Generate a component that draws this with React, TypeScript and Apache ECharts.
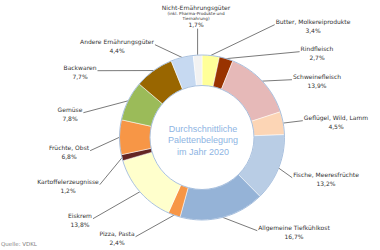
import React, { useEffect, useRef } from "react";
import * as echarts from "echarts";

const categories = [
  "Butter, Molkereiprodukte",
  "Rindfleisch",
  "Schweinefleisch",
  "Geflügel, Wild, Lamm",
  "Fische, Meeresfrüchte",
  "Allgemeine Tiefkühlkost",
  "Pizza, Pasta",
  "Eiskrem",
  "Kartoffelerzeugnisse",
  "Früchte, Obst",
  "Gemüse",
  "Backwaren",
  "Andere Ernährungsgüter",
  "Nicht-Ernährungsgüter",
];
const shares = [3.4, 2.7, 13.9, 4.5, 13.2, 16.7, 2.4, 13.8, 1.2, 6.8, 7.8, 7.7, 4.4, 1.7];
const noteLines = ["(inkl. Pharma-Produkte und", "Tiernahrung)"];
const centerTitle = ["Durchschnittliche", "Palettenbelegung", "im Jahr 2020"];
const sourceText = "Quelle: VDKL";

const sliceColors = [
  "#FFFF99", "#993300", "#E6B9B8", "#FCD5B5", "#B9CDE5", "#95B3D7", "#F79646",
  "#FFFFCC", "#632523", "#F79646", "#9BBB59", "#996600", "#C6D9F1", "#F2F2F2",
];

// label box centres (layout only)
const labelSpots: [number, number][] = [
  [313, 26], [317, 53], [317, 81], [336, 122], [326, 179], [294, 232], [117, 238],
  [80, 220], [68, 186], [69, 152], [70, 114], [80, 72], [117, 46], [196, 16],
];

const fmt = (v: number) => v.toFixed(1).replace(".", ",") + "%";

export default function App() {
  const ref = useRef<HTMLDivElement>(null);
  useEffect(() => {
    if (!ref.current) return;
    const chart = echarts.init(ref.current, null, { renderer: "svg" });
    const font = "DejaVu Sans";
    const nameLH = 8.5;
    const txt = "#333333";
    chart.setOption({
      animation: false,
      backgroundColor: "#ffffff",
      series: [
        {
          type: "pie",
          center: [202, 137.5],
          radius: [52, 82.5],
          startAngle: 90,
          clockwise: true,
          avoidLabelOverlap: false,
          silent: true,
          data: categories.map((c, i) => ({
            name: c,
            value: shares[i],
            itemStyle: { color: sliceColors[i] },
          })),
          itemStyle: { borderColor: "rgba(255,255,255,0.85)", borderWidth: 0.6 },
          label: {
            show: true,
            position: "outside",
            color: txt,
            fontFamily: font,
            align: "center",
            formatter: (p: any) => {
              if (p.dataIndex === categories.length - 1) {
                return `{n|${p.name}}\n{s|${noteLines[0]}}\n{s|${noteLines[1]}}\n{n|${fmt(p.value)}}`;
              }
              return `{n|${p.name}}\n{n|${fmt(p.value)}}`;
            },
            rich: {
              n: { fontSize: 6, lineHeight: nameLH, fontFamily: font, color: txt, align: "center" },
              s: { fontSize: 4.2, lineHeight: 4.4, fontFamily: font, color: txt, align: "center" },
            },
          },
          labelLine: {
            show: true,
            length: 4,
            length2: 4,
            lineStyle: { color: "#404040", width: 0.7 },
          },
          labelLayout: (params: any) => {
            const i = params.dataIndex;
            const [cx, cy] = labelSpots[i];
            const w = params.labelRect.width;
            const h = params.labelRect.height;
            const anchor = params.labelLinePoints ? params.labelLinePoints[0] : [cx, cy];
            let end: number[];
            if (Math.abs(cx - anchor[0]) < 15) {
              end = [anchor[0], cy + h / 2 + 1];
            } else if (cx > anchor[0]) {
              end = [cx - w / 2 - 1, cy - h / 2 + nameLH * 0.7];
            } else {
              end = [cx + w / 2 + 1, cy - h / 2 + nameLH * 0.7];
            }
            return {
              x: cx,
              y: cy,
              align: "center",
              verticalAlign: "middle",
              labelLinePoints: [anchor, end],
            };
          },
        },
        {
          type: "pie",
          center: [202, 137.5],
          radius: [52, 82.5],
          silent: true,
          label: { show: false },
          labelLine: { show: false },
          data: [{ value: 1, name: "outline" }],
          itemStyle: { color: "rgba(0,0,0,0)", borderColor: "#95B3D7", borderWidth: 0.8 },
        },
      ],
      graphic: [
        {
          type: "text",
          x: 203,
          y: 140,
          silent: true,
          style: {
            text: centerTitle.join("\n"),
            fill: "#8EB4E3",
            fontFamily: "Liberation Sans",
            fontSize: 9,
            lineHeight: 11.5,
            align: "center",
            verticalAlign: "middle",
          },
        },
        {
          type: "text",
          x: 1,
          y: 244,
          silent: true,
          style: {
            text: sourceText,
            fill: "#7F7F7F",
            fontFamily: font,
            fontSize: 5.5,
            align: "left",
            verticalAlign: "middle",
          },
        },
      ],
    });
    return () => chart.dispose();
  }, []);
  return (
    <div
      ref={ref}
      style={{ position: "fixed", left: 0, top: 0, width: 380, height: 250 }}
    />
  );
}
